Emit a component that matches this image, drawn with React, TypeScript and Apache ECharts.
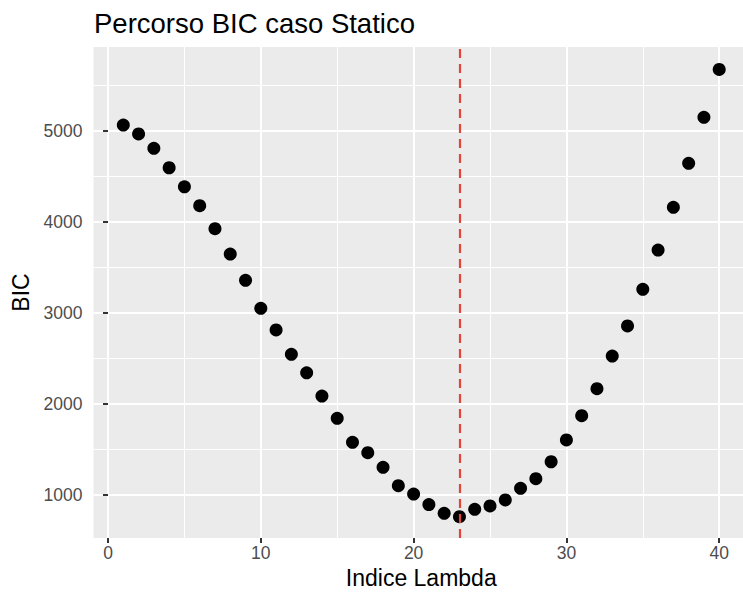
import React, { useEffect, useRef } from 'react';
import * as echarts from 'echarts';

const lambdaIndex = [
  1, 2, 3, 4, 5, 6, 7, 8, 9, 10, 11, 12, 13, 14, 15, 16, 17, 18, 19, 20,
  21, 22, 23, 24, 25, 26, 27, 28, 29, 30, 31, 32, 33, 34, 35, 36, 37, 38, 39, 40,
];
const bic = [
  5060, 4962, 4804, 4591, 4382, 4174, 3921, 3643, 3354, 3046,
  2808, 2541, 2338, 2082, 1837, 1574, 1460, 1299, 1097, 1005,
  890, 793, 756, 837, 874, 940, 1068, 1174, 1360, 1600,
  1866, 2163, 2522, 2852, 3255, 3687, 4156, 4640, 5145, 5672,
];
const xTicks = [0, 10, 20, 30, 40];
const xMinorTicks = [5, 15, 25, 35];
const yTicks = [1000, 2000, 3000, 4000, 5000];
const yMinorTicks = [1500, 2500, 3500, 4500, 5500];
const selectedLambda = 23;

const FONT = '"Liberation Sans", Arial, Helvetica, sans-serif';

export default function App() {
  const ref = useRef<HTMLDivElement>(null);
  useEffect(() => {
    if (!ref.current) return;
    const chart = echarts.init(ref.current, null, { renderer: 'svg' });
    const xMin = -0.95;
    const xMax = 41.95;
    const yMin = 522;
    const yMax = 5918;
    const plain = (v: number) => String(v);
    chart.setOption({
      animation: false,
      backgroundColor: '#FFFFFF',
      title: {
        text: 'Percorso BIC caso Statico',
        left: 89,
        top: 4,
        textStyle: { fontFamily: FONT, fontSize: 27.5, fontWeight: 'normal', color: '#000000' },
      },
      grid: {
        left: 93.5,
        top: 47,
        width: 655.5,
        height: 491,
        show: true,
        backgroundColor: '#EBEBEB',
        borderWidth: 0,
        containLabel: false,
        outerBoundsMode: 'none',
      },
      xAxis: [
        {
          type: 'value',
          min: xMin,
          max: xMax,
          name: 'Indice Lambda',
          nameLocation: 'middle',
          nameGap: 25,
          nameTextStyle: { fontFamily: FONT, fontSize: 23, color: '#000000' },
          axisLine: { show: false },
          axisTick: { show: true, customValues: xTicks, length: 5, lineStyle: { color: '#333333', width: 2 } },
          axisLabel: { customValues: xTicks, formatter: plain, fontFamily: FONT, fontSize: 17.5, color: '#4D4D4D', margin: 6 },
          splitLine: { show: true, lineStyle: { color: '#FFFFFF', width: 2 } },
        },
        {
          type: 'value',
          min: xMin,
          max: xMax,
          axisLine: { show: false },
          axisLabel: { show: false },
          axisTick: { show: false, customValues: xMinorTicks },
          splitLine: { show: true, lineStyle: { color: '#FFFFFF', width: 1 } },
        },
      ],
      yAxis: [
        {
          type: 'value',
          min: yMin,
          max: yMax,
          name: 'BIC',
          nameLocation: 'middle',
          nameGap: 52,
          nameTextStyle: { fontFamily: FONT, fontSize: 23, color: '#000000' },
          axisLine: { show: false },
          axisTick: { show: true, customValues: yTicks, length: 5, lineStyle: { color: '#333333', width: 2 } },
          axisLabel: { customValues: yTicks, formatter: plain, fontFamily: FONT, fontSize: 17.5, color: '#4D4D4D', margin: 11 },
          splitLine: { show: true, lineStyle: { color: '#FFFFFF', width: 2 } },
        },
        {
          type: 'value',
          min: yMin,
          max: yMax,
          axisLine: { show: false },
          axisLabel: { show: false },
          axisTick: { show: false, customValues: yMinorTicks },
          splitLine: { show: true, lineStyle: { color: '#FFFFFF', width: 1 } },
        },
      ],
      series: [
        {
          type: 'scatter',
          xAxisIndex: 0,
          yAxisIndex: 0,
          data: lambdaIndex.map((x, i) => [x, bic[i]]),
          symbol: 'circle',
          symbolSize: 13,
          itemStyle: { color: '#000000', opacity: 1 },
          markLine: {
            silent: true,
            symbol: ['none', 'none'],
            label: { show: false },
            lineStyle: { color: '#E0453A', width: 2.2, type: [9, 6] },
            data: [{ xAxis: selectedLambda }],
            z: 10,
          },
        },
      ],
    });
    return () => chart.dispose();
  }, []);
  return (
    <div
      ref={ref}
      style={{ position: 'absolute', left: 0, top: 0, width: 743, height: 594 }}
    />
  );
}
